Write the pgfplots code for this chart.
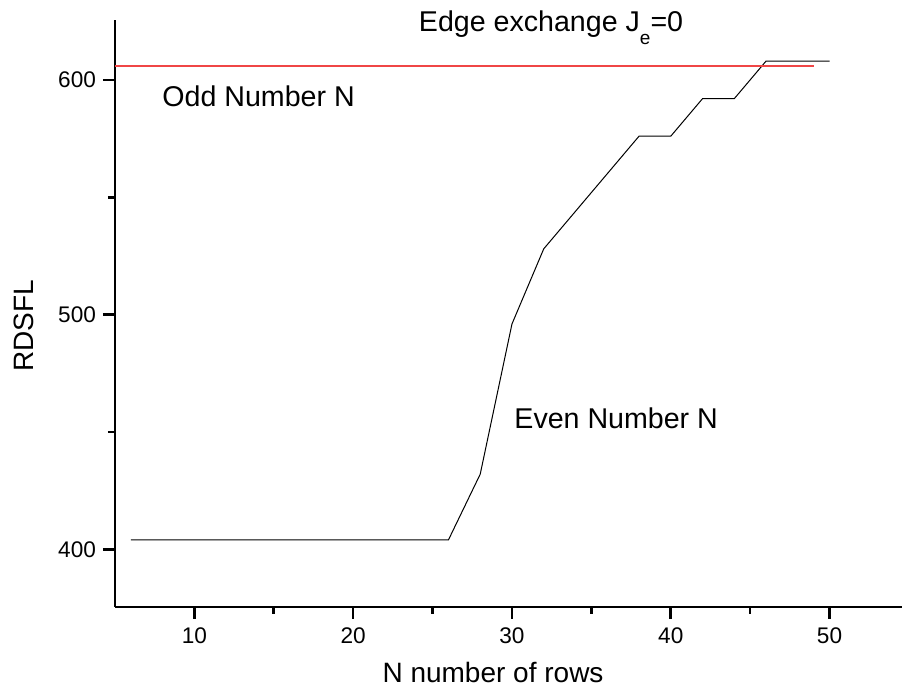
\documentclass[border=0pt]{standalone}
\usepackage{fontspec}
\setmainfont{Liberation Sans}
\usepackage{pgfplots}
\pgfplotsset{compat=1.18}
\definecolor{oddred}{RGB}{240,70,70}
\begin{document}
\begin{tikzpicture}
\begin{axis}[
  at={(0,0)}, anchor=south west,
  scale only axis,
  width=393.8pt, height=293.6pt,
  xmin=5, xmax=54.6, ymin=375.4, ymax=625.6,
  axis x line=bottom, axis y line=left,
  axis line style={line width=1.4pt, -},
  xtick={10,20,30,40,50}, minor xtick={15,25,35,45},
  xticklabels={10,20,30,40,50},
  ytick={400,500,600}, minor ytick={450,550},
  yticklabels={400,500,600},
  tick align=outside,
  major tick length=6pt, minor tick length=3.5pt,
  tick style={line width=1.3pt, black},
  major tick style={line width=1.3pt, black},
  minor tick style={line width=1.3pt, black},
  xticklabel style={font=\fontsize{11.3}{13}\selectfont, yshift=-1pt},
  yticklabel style={font=\fontsize{11.3}{13}\selectfont},
  xlabel={N number of rows}, ylabel={RDSFL},
  every axis x label/.style={at={(axis description cs:0.48,0)}, anchor=base, yshift=-38pt, font=\fontsize{14}{17}\selectfont},
  every axis y label/.style={at={(axis description cs:-0.1041,0.479)}, anchor=base, rotate=90, font=\fontsize{14}{17}\selectfont},
  clip=false,
]
\addplot[draw=black, line width=0.5pt] coordinates {
(6,404) (8,404) (10,404) (12,404) (14,404) (16,404) (18,404) (20,404) (22,404) (24,404) (26,404)
(28,432) (30,496) (32,528) (34,544) (36,560) (38,576) (40,576) (42,592) (44,592) (46,608) (48,608) (50,608)
};
\addplot[color=oddred, draw=oddred, line width=0.8pt] coordinates {
(5,606) (7,606) (9,606) (11,606) (13,606) (15,606) (17,606) (19,606) (21,606) (23,606) (25,606)
(27,606) (29,606) (31,606) (33,606) (35,606) (37,606) (39,606) (41,606) (43,606) (45,606) (47,606) (49,606)
};
\node[anchor=base, font=\fontsize{14.3}{17}\selectfont] at (axis cs:32.46,620.5) {Edge exchange J\raisebox{-6.5pt}{\fontsize{9.5}{10}\selectfont e}=0};
\node[anchor=west, inner sep=0pt, font=\fontsize{14.3}{17}\selectfont] at (axis cs:7.96,592.8) {Odd Number N};
\node[anchor=west, inner sep=0pt, font=\fontsize{14.3}{17}\selectfont] at (axis cs:30.13,456.0) {Even Number N};
\end{axis}
\pgfresetboundingbox
\path[use as bounding box] (-57.5pt,-42pt) rectangle (393.5pt,303.5pt);
\end{tikzpicture}
\end{document}
